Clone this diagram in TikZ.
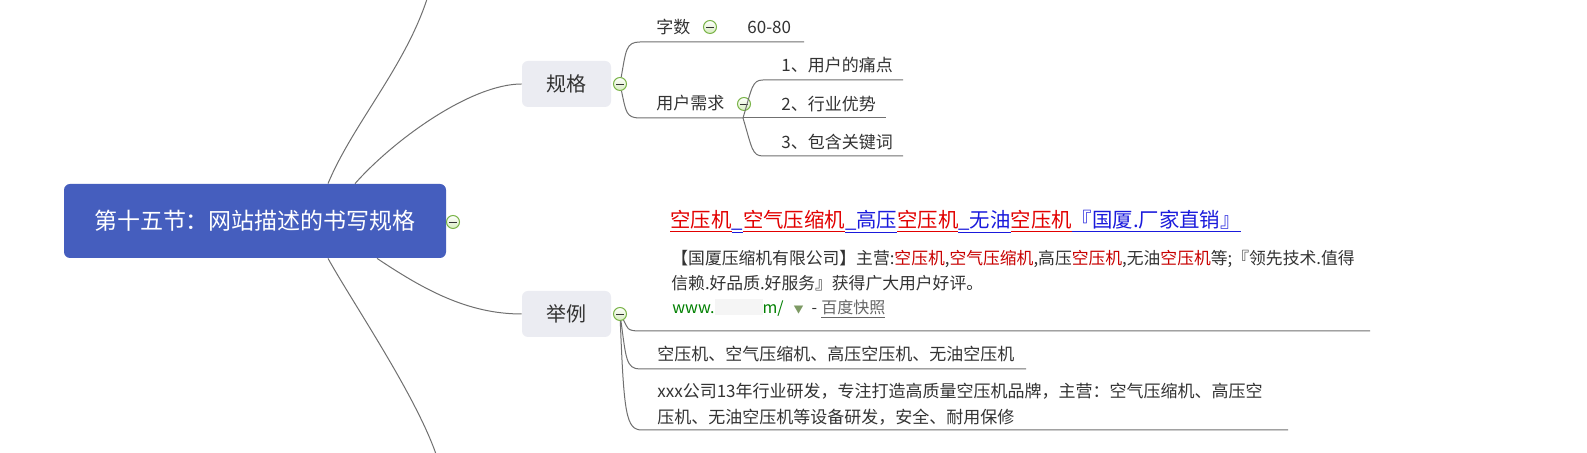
\documentclass[tikz,border=0pt]{standalone}
\usepackage{fontspec}
\setmainfont{Noto Sans CJK SC}
\usepackage{xcolor}
\usepackage{tikz}
\usetikzlibrary{calc}
\definecolor{croot}{RGB}{69,94,190}
\definecolor{cbox}{RGB}{235,236,242}
\definecolor{cink}{RGB}{51,51,51}
\definecolor{cedge}{RGB}{112,112,112}
\definecolor{cdot}{RGB}{122,180,72}
\definecolor{cdotfill}{RGB}{214,236,190}
\definecolor{clinkred}{RGB}{226,0,0}
\definecolor{clinkblue}{RGB}{26,26,220}
\definecolor{ckey}{RGB}{200,0,0}
\definecolor{curl}{RGB}{0,128,0}
\definecolor{cgray}{RGB}{102,102,102}
\newcommand{\lred}[1]{{\color{clinkred}\underline{\vphantom{空}#1}}}
\newcommand{\lblue}[1]{{\color{clinkblue}\underline{\vphantom{空}#1}}}
\newcommand{\kw}[1]{{\color{ckey}#1}}

\begin{document}
\begin{tikzpicture}[x=0.5pt, y=-0.5pt,
  root/.style={fill=croot, rounded corners=3pt, text=white, inner sep=0pt,
               minimum width=191pt, minimum height=37pt, font=\fontsize{11.5}{14}\selectfont},
  topic/.style={fill=cbox, rounded corners=3pt, text=cink, inner sep=0pt,
                minimum width=44.5pt, minimum height=23pt, font=\fontsize{10}{12}\selectfont},
  leaf/.style={anchor=west, inner sep=0pt, text=cink, align=left, font=\fontsize{8.5}{13}\selectfont},
  note/.style={anchor=west, inner sep=0pt, text=cink, align=left, font=\fontsize{8.4}{12.5}\selectfont},
  dot/.style={circle, draw=cdot, line width=0.5pt, top color=white, bottom color=cdotfill,
              minimum size=6.5pt, inner sep=0pt,
              path picture={\draw[cink, line width=0.45pt] ([xshift=-1.8pt]path picture bounding box.center) -- ([xshift=1.8pt]path picture bounding box.center);}},
  edge/.style={draw=cedge, line width=0.5pt}]
\path[fill=white, use as bounding box] (0,0) rectangle (1587,453);

\node[root]  (root)    at (255,221) {第十五节：网站描述的书写规格};
\node[dot]   (rootDot) at (453,222) {};
\node[topic] (spec)    at (566.5,84) {规格};
\node[dot]   (specDot) at (620,84) {};
\node[topic] (example) at (566.5,314) {举例};
\node[dot]   (exDot)   at (620,314) {};
\coordinate (upOff)   at (428,-4);
\coordinate (downOff) at (437,457);

\node[leaf] (count)    at (656,27) {字数};
\node[dot]  (countDot) at (710,27) {};
\node[leaf] (range)    at (747,27) {60-80};
\node[leaf] (need)     at (656,103) {用户需求};
\node[dot]  (needDot)  at (744,104) {};
\node[leaf] (pain1)    at (781,65) {1、用户的痛点};
\node[leaf] (pain2)    at (781,104) {2、行业优势};
\node[leaf] (pain3)    at (781,142) {3、包含关键词};
\coordinate (countL) at (640,42);  \coordinate (countR) at (804,42);
\coordinate (needL)  at (640,118); \coordinate (needR)  at (743,118);
\coordinate (pain1L) at (763,80);  \coordinate (pain1R) at (903,80);
\coordinate (pain2R) at (886,118);
\coordinate (pain3L) at (763,156); \coordinate (pain3R) at (903,156);

\node[note, font=\fontsize{10.2}{12}\selectfont] (exTitle) at (670,222)
  {\lred{空压机}\lblue{\_}\lred{空气压缩机}\lblue{\_高压}\lred{空压机}\lblue{\_无油}\lred{空压机}\lblue{『国厦.厂家直销』}};
\node[note] (exBody) at (671,270.5)
  {【国厦压缩机有限公司】主营:\kw{空压机},\kw{空气压缩机},高压\kw{空压机},无油\kw{空压机}等;『领先技术.值得\\
   信赖.好品质.好服务』获得广大用户好评。};
\node[note, font=\fontsize{8}{12}\selectfont] (exUrl) at (672,309)
  {{\color{curl}www.}{\color{black!4}\rule[-1pt]{24pt}{8pt}}{\color{curl}m/}\hspace{5pt}{\color{cdot!50!gray}\fontsize{5}{6}\selectfont ▼}\hspace{4pt}-\hspace{2pt}{\color{cgray}\underline{百度快照}}};
\node[leaf] (kwList) at (657,354) {空压机、空气压缩机、高压空压机、无油空压机};
\node[leaf] (brief)  at (657,404) {xxx公司13年行业研发，专注打造高质量空压机品牌，主营：空气压缩机、高压空\\
  压机、无油空压机等设备研发，安全、耐用保修};
\coordinate (ex1L) at (640,331); \coordinate (ex1R) at (1370,331);
\coordinate (ex2L) at (640,369); \coordinate (ex2R) at (1026,369);
\coordinate (ex3L) at (642,430); \coordinate (ex3R) at (1288,430);

\draw[edge] ($(root.north)+(100,0)$) .. controls +(40,-45) and +(-50,0) .. (spec.west);
\draw[edge] ($(root.north)+(73,0)$) .. controls +(25,-60) and +(-22,70) .. (upOff);
\draw[edge] ($(root.south)+(122,0)$) .. controls +(45,30) and +(-55,0) .. (example.west);
\draw[edge] ($(root.south)+(73,0)$) .. controls +(25,45) and +(-20,-60) .. (downOff);

\draw[edge] (specDot) .. controls +(6,-34) and +(-14,0) .. (countL) -- (countR);
\draw[edge] (specDot) .. controls +(6,28) and +(-14,0) .. (needL) -- (needR);
\draw[edge] (needR) .. controls +(9,-30) and +(-11,0) .. (pain1L) -- (pain1R);
\draw[edge] (needR) -- (pain2R);
\draw[edge] (needR) .. controls +(9,30) and +(-11,0) .. (pain3L) -- (pain3R);

\draw[edge] (exDot) .. controls +(8,14) and +(-14,0) .. (ex1L) -- (ex1R);
\draw[edge] (exDot) .. controls +(6,44) and +(-14,0) .. (ex2L) -- (ex2R);
\draw[edge] (exDot) .. controls +(4,100) and +(-16,0) .. (ex3L) -- (ex3R);
\end{tikzpicture}
\end{document}
